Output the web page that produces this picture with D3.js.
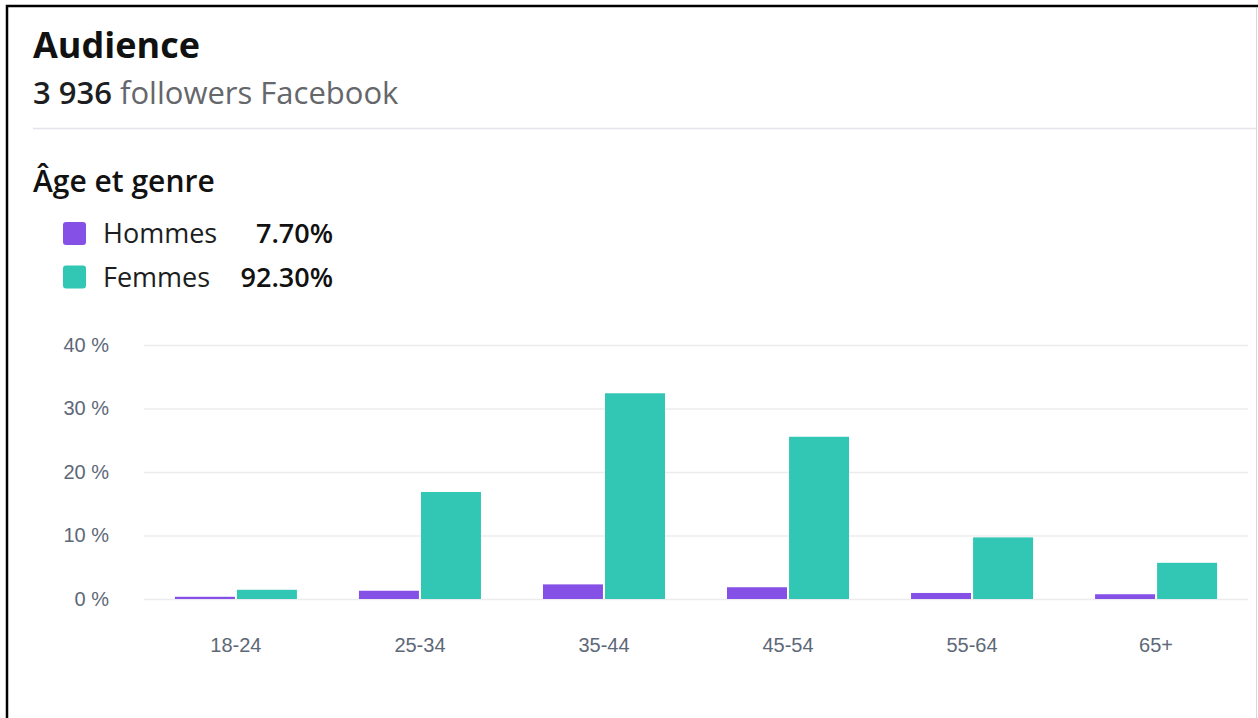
<!DOCTYPE html>
<html>
<head>
<meta charset="utf-8">
<script src="https://cdn.jsdelivr.net/npm/d3@7"></script>
<style>
  body { margin: 0; background: #fff; }
  svg { display: block; }
  text { font-family: "Open Sans", "Noto Sans", sans-serif; }
  .tick text { font-family: "Liberation Sans", Arial, sans-serif; }
</style>
</head>
<body>
<svg id="chart" width="1258" height="718"></svg>
<script>
// data
const ageGroups = ["18-24", "25-34", "35-44", "45-54", "55-64", "65+"];
const hommes = [0.35, 1.3, 2.3, 1.85, 0.95, 0.75];
const femmes = [1.45, 16.85, 32.4, 25.55, 9.7, 5.7];
const seriesNames = ["Hommes", "Femmes"];
const seriesTotals = ["7.70%", "92.30%"];
const yTicks = [0, 10, 20, 30, 40];

const colors = { Hommes: "#8550e6", Femmes: "#32c7b4" };

const svg = d3.select("#chart");

// card frame
svg.append("path")
  .attr("d", "M7,718V6H1258")
  .attr("fill", "none")
  .attr("stroke", "#000")
  .attr("stroke-width", 2.5);
svg.append("line")
  .attr("x1", 1256.5).attr("x2", 1256.5).attr("y1", 8).attr("y2", 718)
  .attr("stroke", "#d8d8dc").attr("stroke-width", 1);

// header
svg.append("text")
  .attr("x", 33).attr("y", 58)
  .attr("font-size", 36).attr("font-weight", 700).attr("fill", "#111")
  .text("Audience");

const sub = svg.append("text")
  .attr("x", 33).attr("y", 104)
  .attr("font-size", 31).attr("fill", "#65676b");
sub.append("tspan").attr("font-weight", 600).attr("fill", "#1c1e21").text("3 936");
sub.append("tspan").text(" followers Facebook");

svg.append("line")
  .attr("x1", 33).attr("x2", 1256).attr("y1", 128.5).attr("y2", 128.5)
  .attr("stroke", "#e4e4ea").attr("stroke-width", 1.5);

svg.append("text")
  .attr("x", 33).attr("y", 192)
  .attr("font-size", 30).attr("font-weight", 600).attr("fill", "#111")
  .text("Âge et genre");

// legend
const legend = svg.append("g").attr("transform", "translate(63,222)");
const item = legend.selectAll("g")
  .data(seriesNames)
  .join("g")
  .attr("transform", (d, i) => `translate(0,${i * 43.5})`);
item.append("rect")
  .attr("width", 23).attr("height", 23).attr("rx", 3)
  .attr("fill", (d) => colors[d]);
item.append("text")
  .attr("x", 40).attr("y", 21)
  .attr("font-size", 27).attr("fill", "#1c1e21")
  .text((d) => d);
item.append("text")
  .attr("x", 270).attr("y", 21)
  .attr("text-anchor", "end")
  .attr("font-size", 27).attr("font-weight", 600).attr("fill", "#111")
  .text((d, i) => seriesTotals[i]);

// chart
const margin = { left: 144, right: 1248, top: 345, bottom: 599 };

const x0 = d3.scaleBand()
  .domain(ageGroups)
  .range([144, 1248])
  .paddingInner(0.337)
  .paddingOuter(0.168);

const x1 = d3.scaleBand()
  .domain(seriesNames)
  .range([0, x0.bandwidth()])
  .paddingInner(0.033);

const y = d3.scaleLinear().domain([0, 40]).range([margin.bottom, margin.top]);

// grid + y labels
const yAxis = svg.append("g")
  .attr("transform", `translate(${margin.left},0)`)
  .call(
    d3.axisLeft(y)
      .tickValues(yTicks)
      .tickSize(-(margin.right - margin.left))
      .tickPadding(35)
      .tickFormat((d) => `${d} %`)
  );
yAxis.select(".domain").remove();
yAxis.selectAll(".tick line").attr("stroke", "#ececee").attr("stroke-width", 1.5);
yAxis.selectAll(".tick text")
  .attr("font-size", 20).attr("fill", "#5d6878");

// bars
const rows = ageGroups.map((g, i) => ({ group: g, Hommes: hommes[i], Femmes: femmes[i] }));

svg.append("g")
  .selectAll("g")
  .data(rows)
  .join("g")
  .attr("transform", (d) => `translate(${x0(d.group)},0)`)
  .selectAll("rect")
  .data((d) => seriesNames.map((k) => ({ key: k, value: d[k] })))
  .join("rect")
  .attr("x", (d) => x1(d.key))
  .attr("width", x1.bandwidth())
  .attr("y", (d) => y(d.value))
  .attr("height", (d) => y(0) - y(d.value))
  .attr("fill", (d) => colors[d.key]);

// x labels
const xAxis = svg.append("g")
  .attr("transform", `translate(0,${margin.bottom})`)
  .call(d3.axisBottom(x0).tickSize(0).tickPadding(39));
xAxis.select(".domain").remove();
xAxis.selectAll(".tick text")
  .attr("font-size", 20).attr("fill", "#5d6878");
</script>
</body>
</html>
